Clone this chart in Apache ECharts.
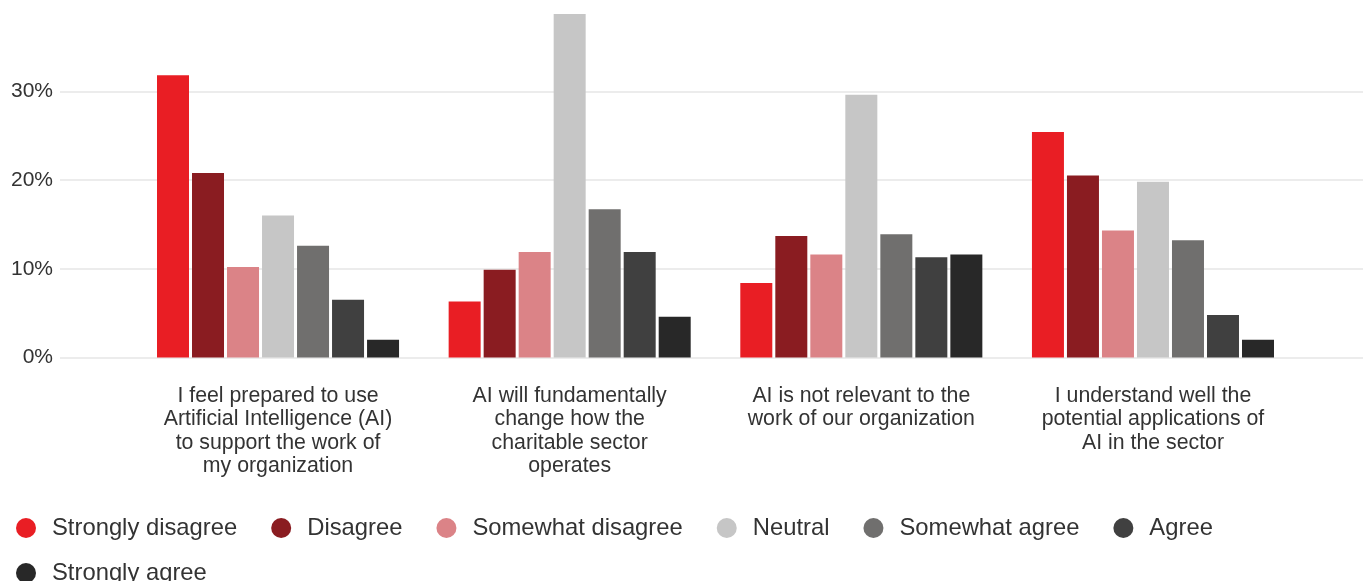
<!DOCTYPE html>
<html>
<head>
<meta charset="utf-8">
<script src="https://cdn.jsdelivr.net/npm/echarts@6/dist/echarts.min.js"></script>
<style>
html,body{margin:0;padding:0;background:#fff;}
#chart{width:1363px;height:581px;}
</style>
</head>
<body>
<div id="chart"></div>
<script>
var categories = [
  "I feel prepared to use\nArtificial Intelligence (AI)\nto support the work of\nmy organization",
  "AI will fundamentally\nchange how the\ncharitable sector\noperates",
  "AI is not relevant to the\nwork of our organization",
  "I understand well the\npotential applications of\nAI in the sector"
];
var seriesNames = ["Strongly disagree", "Disagree", "Somewhat disagree", "Neutral", "Somewhat agree", "Agree", "Strongly agree"];
var stronglyDisagree = [31.8, 6.3, 8.4, 25.4];
var disagree = [20.8, 9.9, 13.7, 20.5];
var somewhatDisagree = [10.2, 11.9, 11.6, 14.3];
var neutral = [16.0, 38.7, 29.6, 19.8];
var somewhatAgree = [12.6, 16.7, 13.9, 13.2];
var agree = [6.5, 11.9, 11.3, 4.8];
var stronglyAgree = [2.0, 4.6, 11.6, 2.0];
var yTicks = [0, 10, 20, 30, 40];

var values = [stronglyDisagree, disagree, somewhatDisagree, neutral, somewhatAgree, agree, stronglyAgree];
var colors = ["#e91e24", "#8a1c21", "#db8387", "#c6c6c6", "#706f6e", "#404040", "#282828"];
var font = "Liberation Sans, Arial, sans-serif";

var chart = echarts.init(document.getElementById('chart'));
var series = seriesNames.map(function (n, i) {
  return {
    name: n, type: 'bar', xAxisIndex: 0, yAxisIndex: 0,
    data: values[i], barWidth: 32, barGap: '9.4%',
    itemStyle: { color: colors[i] },
    emphasis: { disabled: true }
  };
});
function legendBox(names, top) {
  return {
    data: names,
    left: 16, top: top,
    padding: 0,
    icon: 'circle', itemWidth: 20, itemHeight: 20,
    itemGap: 34,
    textStyle: { fontFamily: font, fontSize: 23.8, color: '#333', padding: [0, 0, 0, 11] }
  };
}
chart.setOption({
  animation: false,
  backgroundColor: '#fff',
  color: colors,
  grid: [
    { left: 132.2, right: 64.2, top: 2.5, bottom: 223.5 },
    { left: 60, right: 0, top: 2.5, bottom: 223.5 }
  ],
  legend: [
    legendBox(seriesNames.slice(0, 6), 516),
    legendBox(seriesNames.slice(6), 561)
  ],
  xAxis: [
    {
      type: 'category', gridIndex: 0, data: categories,
      axisLine: { show: false }, axisTick: { show: false },
      axisLabel: { interval: 0, margin: 26.5, fontFamily: font, fontSize: 21.3, lineHeight: 23.5, color: '#333', align: 'center' }
    },
    { type: 'value', gridIndex: 1, show: false, min: 0, max: 1 }
  ],
  yAxis: [
    { type: 'value', gridIndex: 0, min: yTicks[0], max: yTicks[yTicks.length - 1], interval: 10, show: false },
    {
      type: 'value', gridIndex: 1, min: yTicks[0], max: yTicks[yTicks.length - 1], interval: 10,
      axisLine: { show: false }, axisTick: { show: false },
      axisLabel: { showMaxLabel: false, margin: 7, fontFamily: font, fontSize: 21, color: '#333', formatter: '{value}%' },
      splitLine: { show: true, showMaxLine: false, lineStyle: { color: '#e6e6e6', width: 1.5 } }
    }
  ],
  series: series
});
</script>
</body>
</html>
